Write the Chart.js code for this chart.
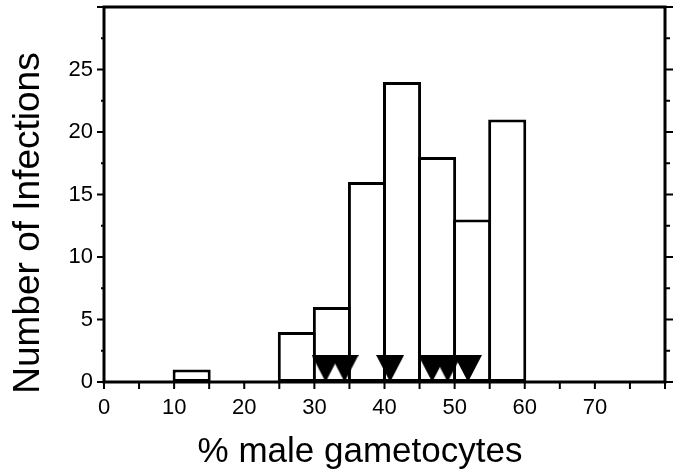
<!DOCTYPE html>
<html><head><meta charset="utf-8">
<script src="https://cdn.jsdelivr.net/npm/chart.js@4/dist/chart.umd.min.js"></script>
<style>html,body{margin:0;padding:0;background:#fff}#wrap{width:674px;height:469px}</style>
</head><body><div id="wrap"><canvas id="c"></canvas></div>
<script>
// ---- data ----
const binStarts = [0, 5, 10, 15, 20, 25, 30, 35, 40, 45, 50, 55, 60, 65, 70, 75];
const infectionCounts = [0, 0, 1, 0, 0, 4, 6, 16, 24, 18, 13, 21, 0, 0, 0, 0];
const markerValues = [31.6, 34.3, 40.8, 46.8, 49.0, 51.9];
const xTickLabels = [0, 10, 20, 30, 40, 50, 60, 70];
const yTickLabels = [0, 5, 10, 15, 20, 25];
const binWidth = 5;
const xTitle = '% male gametocytes';
const yTitle = 'Number of Infections';

const FONT = '"Liberation Sans", Arial, Helvetica, sans-serif';
Chart.defaults.font.family = FONT;
Chart.defaults.font.size = 22;
Chart.defaults.color = '#000';

function makeTriangle(w, h) {
  const c = document.createElement('canvas');
  c.width = w; c.height = 2 * h;
  const g = c.getContext('2d');
  g.fillStyle = '#000';
  g.beginPath(); g.moveTo(0, 0); g.lineTo(w, 0); g.lineTo(w / 2, h); g.closePath(); g.fill();
  return c;
}
const tri = makeTriangle(28, 27);

const framePlugin = {
  id: 'frame',
  afterDraw(chart) {
    const {ctx, chartArea: a, scales: {x, y}} = chart;
    ctx.save();
    ctx.strokeStyle = '#000';
    ctx.lineWidth = 2;
    ctx.beginPath();
    x.ticks.forEach(t => {
      const px = x.getPixelForValue(t.value);
      ctx.moveTo(px, a.bottom); ctx.lineTo(px, a.bottom + 7);
    });
    y.ticks.forEach(t => {
      const py = y.getPixelForValue(t.value);
      const major = t.value % 5 === 0;
      ctx.moveTo(a.left, py); ctx.lineTo(a.left - (major ? 7 : 3), py);
      ctx.moveTo(a.right, py); ctx.lineTo(a.right + (major ? 8 : 5), py);
    });
    ctx.stroke();
    ctx.lineWidth = 3;
    ctx.strokeRect(a.left, a.top, a.right - a.left, a.bottom - a.top);
    ctx.fillStyle = '#000';
    ctx.textAlign = 'center';
    ctx.textBaseline = 'alphabetic';
    ctx.font = '35px ' + FONT;
    ctx.fillText(xTitle, 360, 462);
    ctx.font = '37px ' + FONT;
    ctx.translate(39, 223);
    ctx.rotate(-Math.PI / 2);
    ctx.fillText(yTitle, 0, 0);
    ctx.restore();
  }
};

new Chart(document.getElementById('c'), {
  type: 'bar',
  data: {
    datasets: [
      {
        type: 'scatter',
        order: 0,
        data: markerValues.map(v => ({x: v, y: 0})),
        pointStyle: tri,
        pointRadius: 14,
        clip: false
      },
      {
        type: 'bar',
        order: 1,
        data: binStarts.map((s, i) => ({x: s + binWidth / 2, y: infectionCounts[i]})),
        backgroundColor: '#fff',
        borderColor: '#000',
        borderWidth: 3,
        borderSkipped: false,
        barPercentage: 1.086,
        categoryPercentage: 1
      }
    ]
  },
  options: {
    responsive: true,
    maintainAspectRatio: false,
    animation: false,
    layout: {autoPadding: false, padding: {top: 7, right: 9, left: 0, bottom: 0}},
    plugins: {legend: {display: false}, tooltip: {enabled: false}},
    scales: {
      x: {
        type: 'linear', min: 0, max: 80, offset: false,
        grid: {display: false, drawTicks: false, tickLength: 0}, border: {display: false},
        ticks: {
          stepSize: 5, autoSkip: false, maxRotation: 0, minRotation: 0, padding: 13,
          font: {family: FONT, size: 22}, color: '#000',
          callback: v => xTickLabels.includes(v) ? String(v) : ''
        },
        afterFit: s => { s.height = 87; s.paddingLeft = 0; s.paddingRight = 0; }
      },
      y: {
        type: 'linear', min: 0, max: 30,
        grid: {display: false, drawTicks: false, tickLength: 0}, border: {display: false},
        ticks: {
          stepSize: 2.5, autoSkip: false, padding: 11,
          font: {family: FONT, size: 22}, color: '#000',
          callback: v => yTickLabels.includes(v) ? String(v) : ''
        },
        afterFit: s => { s.width = 104; s.paddingTop = 0; s.paddingBottom = 0; }
      }
    }
  },
  plugins: [framePlugin]
});
</script>
</body></html>
